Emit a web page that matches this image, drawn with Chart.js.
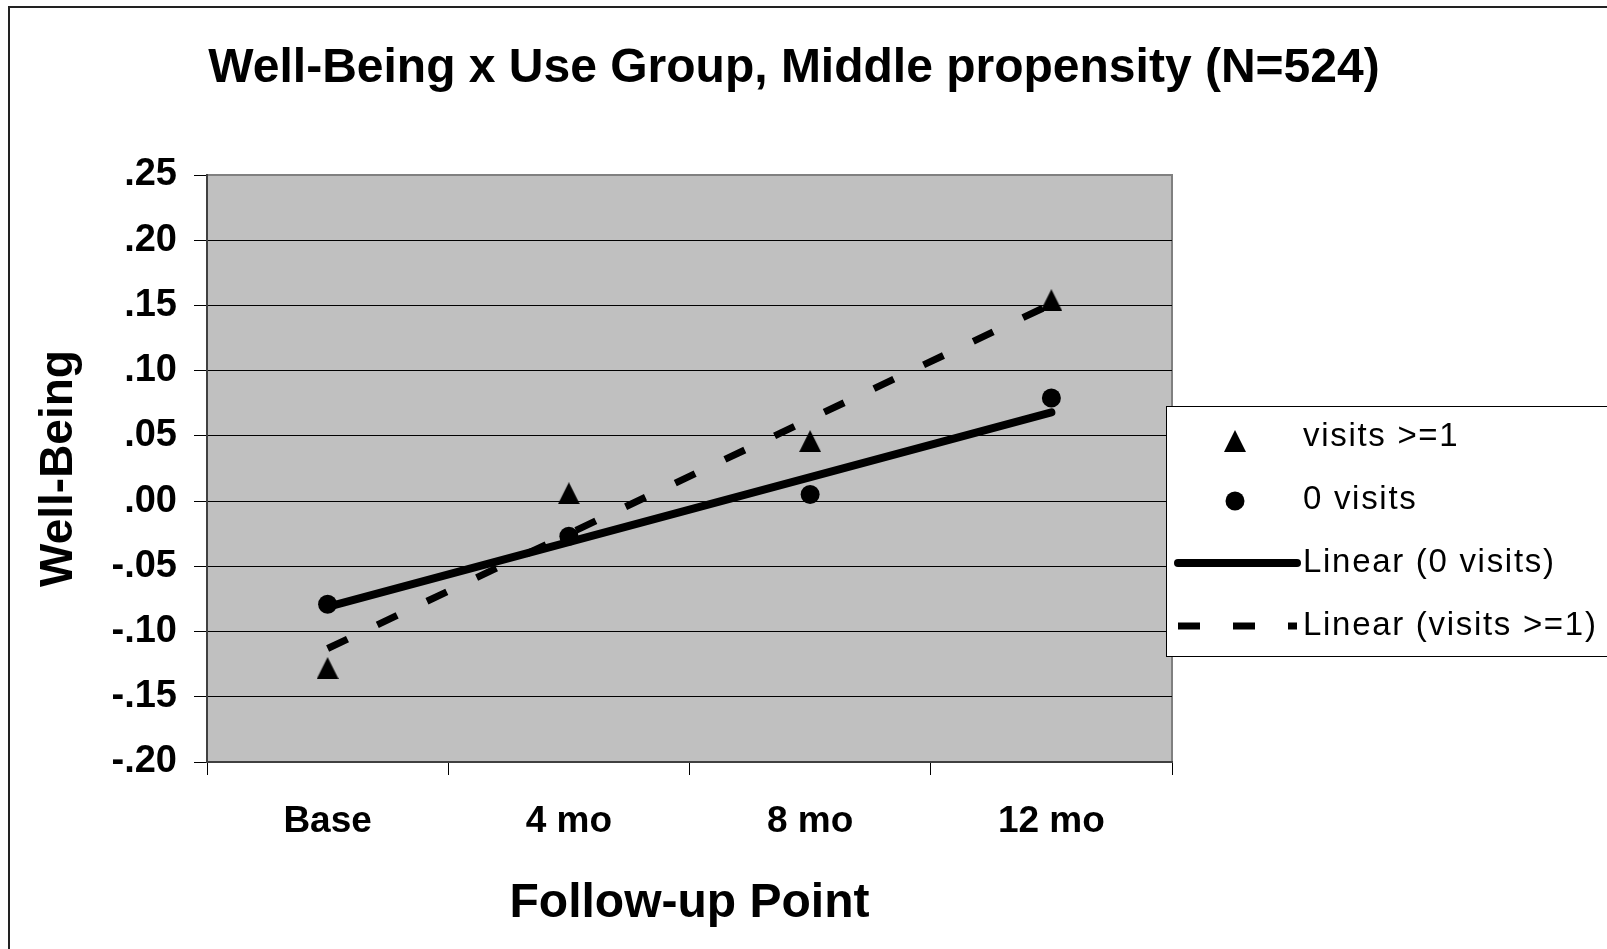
<!DOCTYPE html>
<html>
<head>
<meta charset="utf-8">
<title>Well-Being x Use Group</title>
<script src="https://cdn.jsdelivr.net/npm/chart.js@4.4.1/dist/chart.umd.min.js"></script>
<style>
  html, body { margin: 0; padding: 0; background: #fff; }
  #wrap { width: 1607px; height: 949px; position: relative; }
</style>
</head>
<body>
<div id="wrap"><canvas id="wellBeingChart"></canvas></div>
<script>
const followUpPoints = ['Base', '4 mo', '8 mo', '12 mo'];
const visitsOnePlus = [-0.128, 0.006, 0.046, 0.154];
const zeroVisits = [-0.079, -0.027, 0.005, 0.079];
// linear trend lines: value at Base and at 12 mo
const trendZeroVisits = [-0.081, 0.068];
const trendVisitsOnePlus = [-0.113, 0.151];
const yTickValues = [-0.20, -0.15, -0.10, -0.05, 0, 0.05, 0.10, 0.15, 0.20, 0.25];

const FONT = '"Liberation Sans", Arial, sans-serif';

// solid triangle marker (pointStyle image)
const makeTriangle = (w, h) => {
  const c = document.createElement('canvas');
  c.width = w;
  c.height = h;
  const g = c.getContext('2d');
  g.fillStyle = '#000';
  g.beginPath();
  g.moveTo(w / 2, 0);
  g.lineTo(w, h);
  g.lineTo(0, h);
  g.closePath();
  g.fill();
  return c;
};
const triangleMarker = makeTriangle(22, 22);

const endsToPoints = ends => [
  { x: followUpPoints[0], y: ends[0] },
  { x: followUpPoints[followUpPoints.length - 1], y: ends[1] }
];

const fmtTick = v => {
  if (Math.abs(v) < 1e-9) v = 0;
  return v.toFixed(2).replace('0.', '.');
};

// background, frame, title and the boxed legend
const chartFrame = {
  id: 'chartFrame',
  beforeDraw(chart) {
    const { ctx, chartArea: a } = chart;
    ctx.save();
    ctx.fillStyle = '#C0C0C0';
    ctx.fillRect(a.left, a.top, a.right - a.left, a.bottom - a.top);
    ctx.strokeStyle = '#808080';
    ctx.lineWidth = 2;
    ctx.strokeRect(a.left, a.top, a.right - a.left, a.bottom - a.top);

    ctx.strokeStyle = '#222';
    ctx.lineWidth = 2;
    ctx.beginPath();
    ctx.moveTo(9, chart.height);
    ctx.lineTo(9, 7);
    ctx.lineTo(chart.width, 7);
    ctx.stroke();

    ctx.fillStyle = '#000';
    ctx.font = 'bold 48px ' + FONT;
    ctx.textAlign = 'center';
    ctx.textBaseline = 'middle';
    ctx.fillText('Well-Being x Use Group, Middle propensity (N=524)', 794, 69);
    ctx.restore();
  },
  afterDraw(chart) {
    const { ctx } = chart;
    ctx.save();
    ctx.fillStyle = '#fff';
    ctx.strokeStyle = '#000';
    ctx.lineWidth = 1;
    ctx.fillRect(1166.5, 406.5, 460, 250);
    ctx.strokeRect(1166.5, 406.5, 460, 250);

    chart.data.datasets.forEach((ds, i) => {
      const y = 437 + i * 63;
      if (ds.showLine === false) {
        ctx.fillStyle = '#000';
        ctx.strokeStyle = '#000';
        Chart.helpers.drawPoint(ctx, {
          pointStyle: ds.pointStyle,
          radius: ds.pointRadius,
          rotation: 0,
          borderWidth: 0
        }, 1235, ds.pointStyle === 'circle' ? y + 1 : y + 4);
      } else {
        ctx.strokeStyle = ds.borderColor;
        ctx.lineWidth = ds.borderWidth;
        ctx.lineCap = ds.borderCapStyle || 'butt';
        ctx.setLineDash(ds.borderDash || []);
        ctx.beginPath();
        ctx.moveTo(1178, y);
        ctx.lineTo(1297, y);
        ctx.stroke();
        ctx.setLineDash([]);
      }
      ctx.fillStyle = '#000';
      ctx.font = '33px ' + FONT;
      ctx.letterSpacing = '1.7px';
      ctx.textAlign = 'left';
      ctx.textBaseline = 'middle';
      ctx.fillText(ds.label, 1303, y);
      ctx.letterSpacing = '0px';
    });
    ctx.restore();
  }
};

new Chart(document.getElementById('wellBeingChart'), {
  type: 'line',
  data: {
    labels: followUpPoints,
    datasets: [
      {
        label: 'visits >=1',
        data: visitsOnePlus,
        showLine: false,
        pointStyle: triangleMarker,
        pointRadius: 11,
        backgroundColor: '#000',
        borderColor: '#000',
        order: 2
      },
      {
        label: '0 visits',
        data: zeroVisits,
        showLine: false,
        pointStyle: 'circle',
        pointRadius: 9.5,
        pointBorderWidth: 0,
        backgroundColor: '#000',
        borderColor: '#000',
        order: 2
      },
      {
        label: 'Linear (0 visits)',
        data: endsToPoints(trendZeroVisits),
        borderColor: '#000',
        borderWidth: 8,
        borderCapStyle: 'round',
        pointRadius: 0,
        order: 1
      },
      {
        label: 'Linear (visits >=1)',
        data: endsToPoints(trendVisitsOnePlus),
        borderColor: '#000',
        borderWidth: 7,
        borderDash: [22, 33],
        borderCapStyle: 'butt',
        pointRadius: 0,
        order: 1
      }
    ]
  },
  options: {
    responsive: true,
    maintainAspectRatio: false,
    animation: false,
    layout: { padding: { top: 175, right: 435, left: 0, bottom: 0 } },
    plugins: {
      legend: { display: false },
      tooltip: { enabled: false }
    },
    scales: {
      x: {
        offset: true,
        grid: {
          offset: true,
          drawOnChartArea: false,
          drawTicks: true,
          tickLength: 13,
          color: '#000',
          lineWidth: 1
        },
        border: { display: true, color: '#404040', width: 2 },
        ticks: {
          color: '#000',
          font: { family: FONT, size: 37, weight: 'bold' },
          padding: 25,
          maxRotation: 0,
          autoSkip: false
        },
        title: {
          display: true,
          text: 'Follow-up Point',
          color: '#000',
          font: { family: FONT, size: 48, weight: 'bold' },
          padding: { top: 0, bottom: 16 }
        },
        afterFit: s => { s.height = 187; }
      },
      y: {
        min: -0.2,
        max: 0.25,
        afterBuildTicks: s => { s.ticks = yTickValues.map(v => ({ value: v })); },
        grid: {
          color: c => (c.tick && Math.abs(c.tick.value - 0.25) < 1e-9 ? '#808080' : '#000'),
          tickColor: '#000',
          lineWidth: 1,
          drawTicks: true,
          tickLength: 13
        },
        border: { display: true, color: '#404040', width: 2 },
        ticks: {
          color: '#000',
          font: { family: FONT, size: 38, weight: 'bold' },
          padding: 17,
          callback: v => fmtTick(v)
        },
        title: {
          display: true,
          text: 'Well-Being',
          color: '#000',
          font: { family: FONT, size: 46, weight: 'bold' },
          padding: { top: 32, bottom: 0 }
        },
        afterFit: s => { s.width = 207; }
      }
    }
  },
  plugins: [chartFrame]
});
</script>
</body>
</html>
